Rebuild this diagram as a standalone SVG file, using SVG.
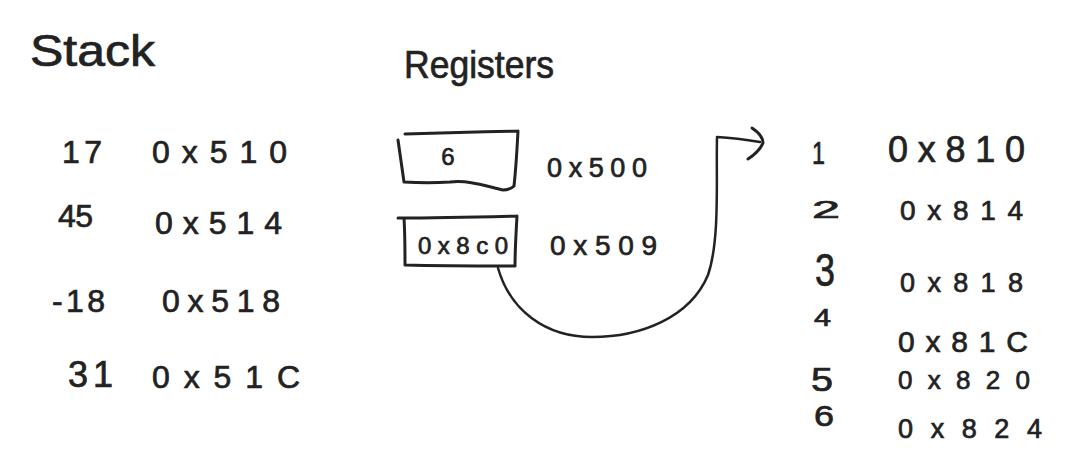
<svg xmlns="http://www.w3.org/2000/svg" width="1068" height="472" viewBox="0 0 1068 472">
<style>
  .t { font-family: "Liberation Sans", Arial, sans-serif; fill: #222; stroke: #222; stroke-width: 0.7; }
  .title { font-size: 44px; }
  .hex { font-size: 32px; }
  .num { font-size: 32px; }
  .small { font-size: 24px; }
  .ink { fill: none; stroke: #222; stroke-width: 3; stroke-linecap: round; stroke-linejoin: round; }
</style>
<rect width="1068" height="472" fill="#ffffff"/>

<g id="stack-title"><text class="t title" x="30" y="66" textLength="125" lengthAdjust="spacingAndGlyphs">Stack</text></g>
<g id="registers-title"><text class="t" style="font-size:38px" x="404" y="78" textLength="150" lengthAdjust="spacingAndGlyphs">Registers</text></g>

<g id="stack-row-1">
  <text class="t num" x="62" y="163" textLength="40" lengthAdjust="spacing">17</text>
  <text class="t hex" x="152" y="163" textLength="135" lengthAdjust="spacing">0x510</text>
</g>
<g id="stack-row-2">
  <text class="t num" x="58" y="227" textLength="35" lengthAdjust="spacing">45</text>
  <text class="t hex" x="155" y="234" textLength="127" lengthAdjust="spacing">0x514</text>
</g>
<g id="stack-row-3">
  <text class="t num" x="52" y="312" textLength="53" lengthAdjust="spacing">-18</text>
  <text class="t hex" x="162" y="312" textLength="118" lengthAdjust="spacing">0x518</text>
</g>
<g id="stack-row-4">
  <text class="t num" style="font-size:36px" x="68" y="387" textLength="45" lengthAdjust="spacing">31</text>
  <text class="t hex" x="152" y="388" textLength="148" lengthAdjust="spacing">0x51C</text>
</g>

<g id="register-1">
  <path class="ink" d="M405,134 C440,133 480,132 518,131 M518,131 C517,150 516,168 514,186 C511,189 507,190 503,190 C485,186 470,180 450,182 C435,183 420,183 404,182 M404,182 C402,168 400,154 398,140"/>
  <text class="t" style="font-size:24px" x="448" y="165" text-anchor="middle">6</text>
  <text class="t" style="font-size:27px" x="547" y="177" textLength="100" lengthAdjust="spacing">0x500</text>
</g>
<g id="register-2">
  <path class="ink" d="M398,218 C440,218 480,217 517,216 M517,216 C516,233 515,250 515,266 M515,266 C478,266 442,266 405,265 M405,265 C405,250 405,234 404,218"/>
  <text class="t" style="font-size:24px" x="418" y="254" textLength="90" lengthAdjust="spacing">0x8c0</text>
  <text class="t" style="font-size:28px" x="550" y="255" textLength="107" lengthAdjust="spacing">0x509</text>
</g>

<g id="array-rows">
  <g id="array-1">
    <text class="t num" x="812" y="164" textLength="13" lengthAdjust="spacingAndGlyphs">1</text>
    <text class="t" style="font-size:36px" x="888" y="162" textLength="137" lengthAdjust="spacing">0x810</text>
  </g>
  <g id="array-2">
    <text class="t small" x="812" y="218" textLength="28" lengthAdjust="spacingAndGlyphs">2</text>
    <text class="t" style="font-size:28px" x="900" y="220" textLength="123" lengthAdjust="spacing">0x814</text>
  </g>
  <g id="array-3">
    <text class="t" style="font-size:46px" x="815" y="286" textLength="20" lengthAdjust="spacingAndGlyphs">3</text>
    <text class="t" style="font-size:27px" x="900" y="292" textLength="123" lengthAdjust="spacing">0x818</text>
  </g>
  <g id="array-4">
    <text class="t small" x="814" y="326" textLength="17" lengthAdjust="spacingAndGlyphs">4</text>
    <text class="t" style="font-size:30px" x="898" y="352" textLength="130" lengthAdjust="spacing">0x81C</text>
  </g>
  <g id="array-5">
    <text class="t" style="font-size:34px" x="811" y="391" textLength="22" lengthAdjust="spacingAndGlyphs">5</text>
    <text class="t" style="font-size:26px" x="898" y="389" textLength="132" lengthAdjust="spacing">0x820</text>
  </g>
  <g id="array-6">
    <text class="t" style="font-size:30px" x="814" y="426" textLength="20" lengthAdjust="spacingAndGlyphs">6</text>
    <text class="t" style="font-size:27px" x="898" y="438" textLength="144" lengthAdjust="spacing">0x824</text>
  </g>
</g>

<g id="connectors">
  <path class="ink" style="stroke-width:2.5" d="M498,268 C510,310 545,337 592,337 C640,337 690,318 708,275 C720,240 716,180 717,137 C735,138 748,140 760,142"/>
  <path class="ink" d="M752,128 C758,132 763,138 763,143 C760,150 754,155 748,159"/>
</g>
</svg>
